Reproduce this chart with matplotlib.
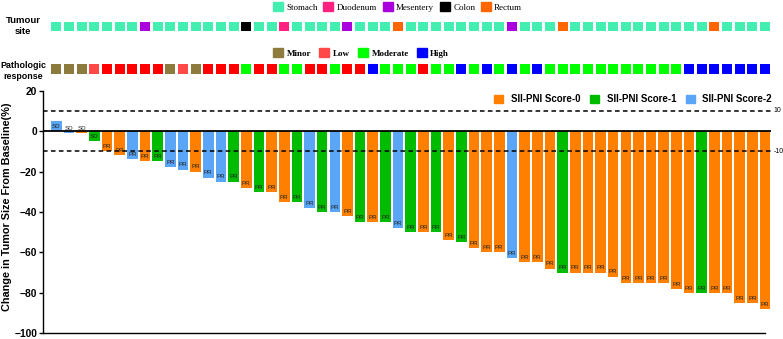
import numpy as np
import matplotlib
matplotlib.use("Agg")
from matplotlib import pyplot as plt
from matplotlib.patches import Patch
from matplotlib import transforms

plt.rcParams['font.family'] = ['Liberation Sans', 'DejaVu Sans']

#
# Data (one entry per patient, left to right)
#
change = [5, -1, -1, -5, -10, -12, -14, -15, -15, -18, -19, -20, -23, -25, -25,
          -28, -30, -30, -35, -35, -38, -40, -40, -42, -45, -45, -45, -48, -50,
          -50, -50, -54, -55, -58, -60, -60, -63, -65, -65, -68, -70, -70, -70,
          -70, -72, -75, -75, -75, -75, -78, -80, -80, -80, -80, -85, -85, -88]

score = [2, 2, 0, 1, 0, 0, 2, 0, 1, 2, 2, 0, 2, 2, 1, 0, 1, 0, 0, 1, 2, 1, 2,
         0, 1, 0, 1, 2, 1, 0, 1, 0, 1, 0, 0, 0, 2, 0, 0, 0, 1, 0, 0, 0, 0, 0,
         0, 0, 0, 0, 0, 1, 0, 0, 0, 0, 0]

recist = ['SD'] * 4 + ['PR'] * 53

site = (['S'] * 7 + ['M'] + ['S'] * 7 + ['C'] + ['S'] * 2 + ['D'] + ['S'] * 4
        + ['M'] + ['S'] * 3 + ['R'] + ['S'] * 8 + ['M'] + ['S'] * 3 + ['R']
        + ['S'] * 11 + ['R'] + ['S'] * 4)

response = (['Mi', 'Mi', 'Mi', 'L', 'L2', 'L2', 'L2', 'L2', 'L2', 'Mi', 'L', 'Mi',
             'L2', 'L2', 'L2', 'Mo', 'L2', 'L2', 'Mo', 'Mo', 'L2', 'L2', 'Mo',
             'L2', 'L2', 'H', 'Mo', 'Mo', 'Mo', 'L2', 'Mo', 'Mo', 'H', 'Mo', 'H',
             'Mo', 'H', 'Mo', 'H'] + ['Mo'] * 11 + ['H'] * 7)

score_names = ['SII-PNI Score-0', 'SII-PNI Score-1', 'SII-PNI Score-2']
score_colors = ['#FF8000', '#00BB00', '#5AA5F5']

site_names = {'S': 'Stomach', 'D': 'Duodenum', 'M': 'Mesentery', 'C': 'Colon', 'R': 'Rectum'}
site_colors = {'S': '#44EEB0', 'D': '#FF2080', 'M': '#AA00DD', 'C': '#000000', 'R': '#FF6600'}

resp_names = {'Mi': 'Minor', 'L': 'Low', 'Mo': 'Moderate', 'H': 'High'}
resp_colors = {'Mi': '#8C7B3C', 'L': '#FF4848', 'L2': '#FF0000', 'Mo': '#00FF00', 'H': '#0000FF'}

W, H = 783, 339
x = np.arange(len(change))
xlim = (-1.04, 56.45)

fig = plt.figure(figsize=(W / 100, H / 100), dpi=100)

#
# waterfall bars
#
ax = fig.add_axes([43.3 / W, 5.8 / H, (770.7 - 43.3) / W, (333.2 - 90.7) / H])
ax.bar(x, change, width=0.84, color=[score_colors[s] for s in score], zorder=2)
for i, v in enumerate(change):
    ax.text(i, min(v, 0) + 2.3, recist[i], ha='center', va='center',
            fontsize=4.5, color='#222222', zorder=3)

ax.set_xlim(*xlim)
ax.set_ylim(-100, 20)
ax.axhline(0, color='black', lw=1.3, zorder=4)
ax.axhline(10, color='black', lw=1.1, ls=(0, (3, 2.2)))
ax.axhline(-10, color='black', lw=1.1, ls=(0, (3, 2.2)))
tr = transforms.blended_transform_factory(ax.transAxes, ax.transData)
ax.text(1.004, 10, '10', transform=tr, fontsize=5, va='center')
ax.text(1.004, -10, '-10', transform=tr, fontsize=5, va='center')

for s in ['top', 'right']:
    ax.spines[s].set_visible(False)
ax.spines['bottom'].set_bounds(xlim[0], 56.0)
ax.spines['left'].set_linewidth(1.0)
ax.spines['bottom'].set_linewidth(1.0)
ax.set_xticks([])
ax.set_yticks(range(-100, 21, 20))
ax.tick_params(axis='y', length=3, width=1, labelsize=7.4, pad=1.5)
for lab in ax.get_yticklabels():
    lab.set_fontweight('bold')
ax.set_ylabel('Change in Tumor Size From Baseline(%)', fontweight='bold', fontsize=7.8)
ax.yaxis.set_label_coords(-0.0435, 0.52)

handles = [Patch(color=c) for c in score_colors]
ax.legend(handles, score_names, ncol=3, loc='center right',
          bbox_to_anchor=(772 / W, 1 - 99 / H), bbox_transform=fig.transFigure,
          frameon=False, prop={'weight': 'bold', 'size': 7},
          handlelength=0.9, handleheight=0.9, handletextpad=0.8,
          columnspacing=1.0, borderpad=0, borderaxespad=0)

#
# tumour site and pathologic response rows
#
ax_top = fig.add_axes([43.3 / W, 1 - 88 / H, (770.7 - 43.3) / W, 88 / H])
ax_top.set_xlim(*xlim)
ax_top.set_ylim(88, 0)
ax_top.axis('off')
ax_top.bar(x, 9.5, bottom=21.5, width=0.79, color=[site_colors[s] for s in site])
ax_top.bar(x, 9.5, bottom=64.3, width=0.79, color=[resp_colors[r] for r in response])

fig.text(23 / W, 1 - 26 / H, 'Tumour\nsite', ha='center', va='center',
         fontweight='bold', fontsize=6.8, linespacing=1.4)
fig.text(23 / W, 1 - 71 / H, 'Pathologic\nresponse', ha='center', va='center',
         fontweight='bold', fontsize=6.4, linespacing=1.4)

serif = {'family': 'Liberation Serif', 'size': 6.5}
h_site = [Patch(color=site_colors[k]) for k in site_names]
first = ax_top.legend(h_site, list(site_names.values()), ncol=5, loc='center left',
                      bbox_to_anchor=(273 / W, 1 - 7 / H), bbox_transform=fig.transFigure,
                      frameon=False, prop=serif, handlelength=1.1, handleheight=1.1,
                      handletextpad=0.4, columnspacing=0.6, borderpad=0, borderaxespad=0)
ax_top.add_artist(first)

h_resp = [Patch(color=resp_colors[k]) for k in resp_names]
ax_top.legend(h_resp, list(resp_names.values()), ncol=4, loc='center left',
              bbox_to_anchor=(273 / W, 1 - 53 / H), bbox_transform=fig.transFigure,
              frameon=False, prop=dict(serif, weight='bold'), handlelength=1.1,
              handleheight=1.1, handletextpad=0.4, columnspacing=0.9,
              borderpad=0, borderaxespad=0)

plt.savefig('out.png', dpi=100)
